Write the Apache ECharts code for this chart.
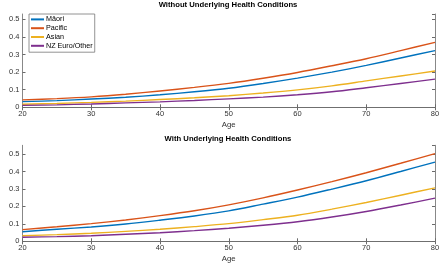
<!DOCTYPE html>
<html>
<head>
<meta charset="utf-8">
<script src="https://cdn.jsdelivr.net/npm/echarts@6/dist/echarts.min.js"></script>
<style>
html,body{margin:0;padding:0;background:#fff;}
#chart{width:440px;height:264px;}
</style>
</head>
<body>
<div id="chart"></div>
<script>
var ages = [20, 25, 30, 35, 40, 45, 50, 55, 60, 65, 70, 75, 80];
var groups = ['Māori', 'Pacific', 'Asian', 'NZ Euro/Other'];
var colors = ['#0072BD', '#D95319', '#EDB120', '#7E2F8E'];

// without underlying health conditions
var maoriWithout   = [0.032, 0.038, 0.047, 0.057, 0.071, 0.088, 0.108, 0.135, 0.166, 0.200, 0.238, 0.280, 0.322];
var pacificWithout = [0.042, 0.049, 0.059, 0.074, 0.093, 0.113, 0.136, 0.165, 0.198, 0.236, 0.276, 0.322, 0.369];
var asianWithout   = [0.017, 0.022, 0.028, 0.035, 0.044, 0.054, 0.066, 0.081, 0.099, 0.122, 0.150, 0.178, 0.206];
var euroWithout    = [0.011, 0.014, 0.019, 0.025, 0.031, 0.039, 0.048, 0.058, 0.071, 0.088, 0.111, 0.135, 0.160];

// with underlying health conditions
var maoriWith   = [0.055, 0.069, 0.082, 0.099, 0.121, 0.145, 0.174, 0.213, 0.253, 0.299, 0.347, 0.400, 0.454];
var pacificWith = [0.067, 0.083, 0.101, 0.122, 0.147, 0.175, 0.209, 0.249, 0.294, 0.342, 0.393, 0.447, 0.502];
var asianWith   = [0.032, 0.038, 0.046, 0.057, 0.069, 0.084, 0.101, 0.124, 0.149, 0.184, 0.222, 0.264, 0.306];
var euroWith    = [0.023, 0.027, 0.032, 0.040, 0.049, 0.061, 0.075, 0.092, 0.112, 0.139, 0.171, 0.208, 0.247];

var titles = ['Without Underlying Health Conditions', 'With Underlying Health Conditions'];
var yMax = [0.53, 0.55];

function pairs(vals) {
    var out = [];
    for (var i = 0; i < ages.length; i++) out.push([ages[i], vals[i]]);
    return out;
}

var FONT = 'Liberation Sans, Arial, sans-serif';
var AXIS_COLOR = '#6a6a6a';

var option = {
    animation: false,
    textStyle: {fontFamily: FONT},
    title: [
        {text: titles[0], left: 228, top: 0, padding: [1, 0, 0, 0], textAlign: 'center',
         textStyle: {fontSize: 7.7, fontWeight: 'bold', color: '#000', fontFamily: FONT}},
        {text: titles[1], left: 228, top: 131, padding: [4, 0, 0, 0], textAlign: 'center',
         textStyle: {fontSize: 7.7, fontWeight: 'bold', color: '#000', fontFamily: FONT}}
    ],
    legend: {
        data: groups,
        orient: 'vertical',
        left: 29, top: 14,
        itemWidth: 13, itemHeight: 2,
        itemGap: 0,
        padding: [1, 2, 2, 2],
        borderColor: '#777', borderWidth: 0.8,
        backgroundColor: '#fff',
        icon: 'rect',
        textStyle: {fontSize: 7.2, lineHeight: 8.8, color: '#000', fontFamily: FONT, padding: [0, 0, 0, -3]}
    },
    grid: [
        {left: 22.5, right: 5, top: 14, height: 93.3, outerBoundsMode: 'none', containLabel: false},
        {left: 22.5, right: 5, top: 145.3, height: 96, outerBoundsMode: 'none', containLabel: false}
    ],
    xAxis: [],
    yAxis: [],
    series: []
};

for (var g = 0; g < 2; g++) {
    option.xAxis.push({
        type: 'value', gridIndex: g, min: 20, max: 80, interval: 10,
        name: 'Age', nameLocation: 'middle', nameGap: 14,
        nameTextStyle: {fontSize: 7.8, color: '#333'},
        axisLine: {lineStyle: {color: AXIS_COLOR, width: 0.8}},
        axisTick: {inside: true, length: 3, lineStyle: {color: AXIS_COLOR}},
        axisLabel: {fontSize: 7.5, color: '#333', margin: 3},
        splitLine: {show: false}
    });
    option.xAxis.push({
        type: 'value', gridIndex: g, min: 20, max: 80, interval: 10, position: 'top',
        axisLine: {lineStyle: {color: AXIS_COLOR, width: 0.8}},
        axisTick: {inside: true, length: 3, lineStyle: {color: AXIS_COLOR}},
        axisLabel: {show: false},
        splitLine: {show: false}
    });
    option.yAxis.push({
        type: 'value', gridIndex: g, min: 0, max: yMax[g], interval: 0.1,
        name: 'Probability of hospitalisation', nameLocation: 'middle', nameGap: 14,
        nameTextStyle: {fontSize: 7.8, color: '#333'},
        axisLine: {show: true, lineStyle: {color: AXIS_COLOR, width: 0.8}},
        axisTick: {show: true, inside: true, length: 3, lineStyle: {color: AXIS_COLOR}},
        axisLabel: {fontSize: 7.5, color: '#333', margin: 3, showMaxLabel: false},
        splitLine: {show: false}
    });
    option.yAxis.push({
        type: 'value', gridIndex: g, min: 0, max: yMax[g], interval: 0.1, position: 'right',
        axisLine: {show: true, lineStyle: {color: AXIS_COLOR, width: 0.8}},
        axisTick: {show: true, inside: true, length: 3, lineStyle: {color: AXIS_COLOR}},
        axisLabel: {show: false},
        splitLine: {show: false}
    });
}

var seriesData = [
    [maoriWithout, pacificWithout, asianWithout, euroWithout],
    [maoriWith, pacificWith, asianWith, euroWith]
];

for (var p = 0; p < 2; p++) {
    for (var s = 0; s < groups.length; s++) {
        option.series.push({
            name: groups[s],
            type: 'line',
            xAxisIndex: p * 2,
            yAxisIndex: p * 2,
            data: pairs(seriesData[p][s]),
            smooth: 0.3,
            showSymbol: false,
            symbol: 'none',
            color: colors[s],
            lineStyle: {width: 1.4, color: colors[s]}
        });
    }
}

var chart = echarts.init(document.getElementById('chart'));
chart.setOption(option);
</script>
</body>
</html>
